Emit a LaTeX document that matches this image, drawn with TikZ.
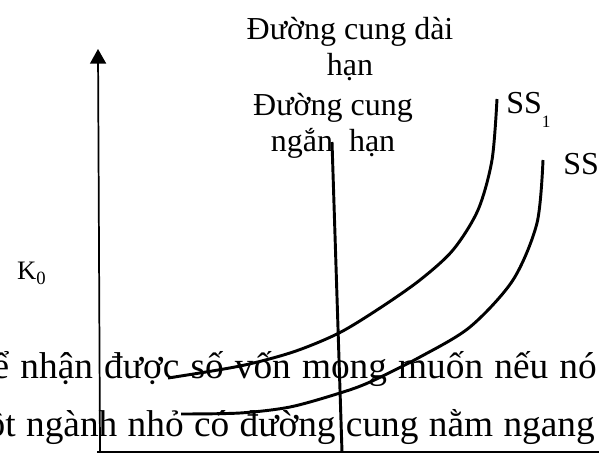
\documentclass[tikz,border=0pt]{standalone}
\usepackage{fontspec}
\setmainfont{Liberation Serif}
\usepackage{tikz}
\usetikzlibrary{arrows.meta,positioning}
\tikzset{
  lbl/.style={inner sep=0pt, align=center, font=\fontsize{24}{27}\selectfont},
  klbl/.style={inner sep=0pt, font=\fontsize{20}{24}\selectfont},
  body/.style={inner sep=0pt, anchor=base east, font=\fontsize{28}{32}\selectfont},
  axis/.style={line width=1.3pt},
  arrow/.style={-{Triangle[length=11pt,width=12pt]}, axis},
  curve/.style={line width=2.2pt},
}

\begin{document}
\begin{tikzpicture}[x=0.75pt,y=-0.75pt]
  \useasboundingbox (0,0) rectangle (599,457);
  \clip (0,0) rectangle (599,457);

  % page text behind the graph
  \node[body] (row1) at (597,378) {\makebox[453pt][s]{ể nhận được số vốn mong muốn nếu nó}};
  \node[body] (row2) at (595,436) {\makebox[456pt][s]{ột ngành nhỏ có đường cung nằm ngang}};

  \node[lbl, anchor=base] (longrun) at (350,75) {Đường cung dài\\hạn};
  \node[lbl, anchor=base] (shortrun) at (333,151) {Đường cung\\ngắn\ \ hạn};
  \node[lbl, anchor=base west] (ss1) at (506,113) {SS\raisebox{-11pt}{\fontsize{13}{13}\selectfont 1}};
  \node[lbl, anchor=base west] (ss) at (563,174) {SS};
  \node[klbl, anchor=base east] (k0) at (46,279) {K\raisebox{-4pt}{\fontsize{14}{14}\selectfont 0}};

  \coordinate (origin) at (100,451);
  \coordinate (ytop) at (98,49);
  \coordinate (xstart) at (97,452);
  \coordinate (xend) at (605,452);
  \coordinate (srtop) at (332,142);
  \coordinate (srbot) at (342,452);

  \draw[arrow] (origin) -- (ytop);
  \draw[axis] (xstart) -- (xend);
  \draw[curve] (srtop) -- (srbot);

  % SS1 and SS
  \draw[curve] plot[smooth] coordinates {(168,378) (240,366) (293,352) (339,333) (380,308)
    (420,280) (453,250) (478,210) (492,160) (497,99)};
  \draw[curve] plot[smooth] coordinates {(181,414) (240,413) (290,407) (340,393) (370,382)
    (420,357) (470,327) (513,280) (537,223) (543,160)};
\end{tikzpicture}
\end{document}
